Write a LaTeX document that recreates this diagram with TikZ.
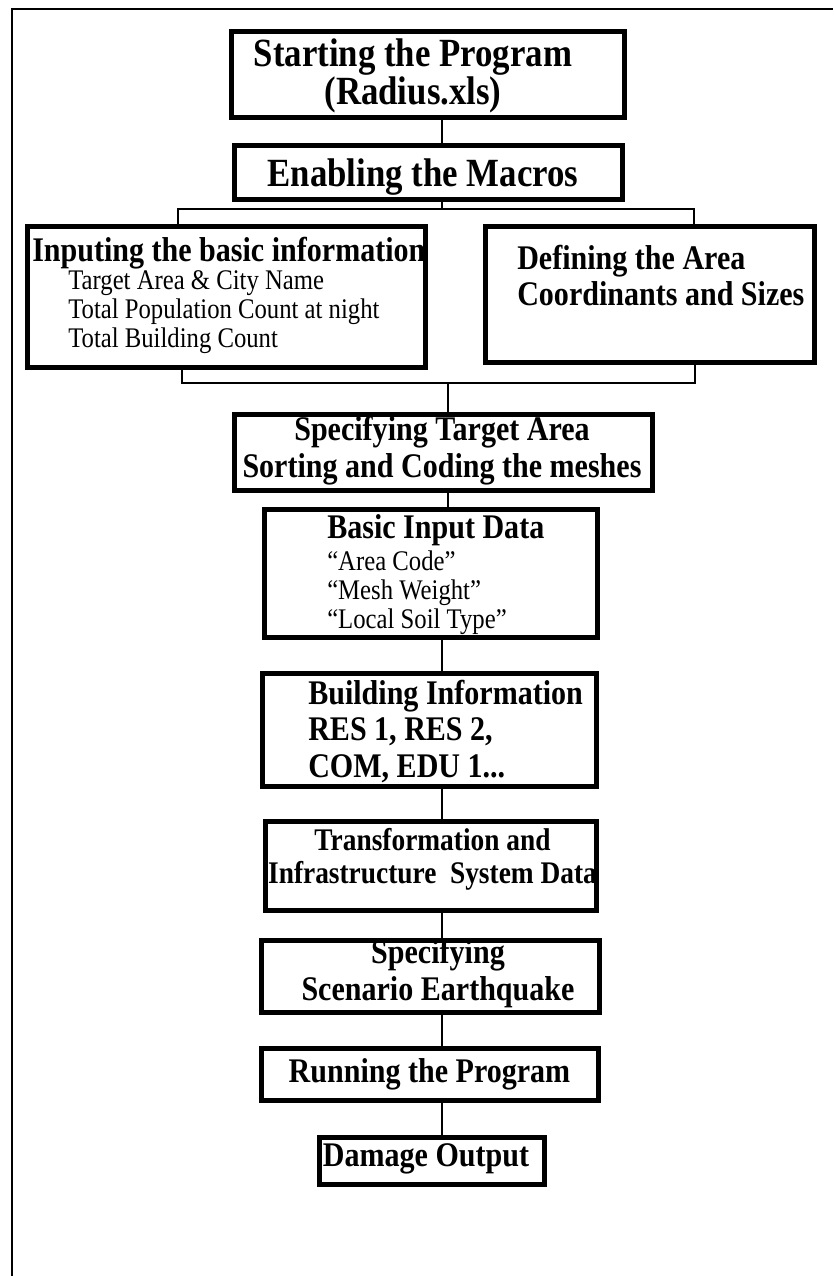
\documentclass[tikz,border=0pt]{standalone}
\usepackage{fontspec}
\setmainfont{Liberation Serif}
\newfontfamily\tallfont[FakeStretch=0.87]{Liberation Serif}

\def\pix{0.75pt}

\begin{document}
\begin{tikzpicture}[x=\pix,y=-\pix]
    \tikzstyle{box}=[draw,rectangle,line width=3.5pt,inner sep=0pt]
    \tikzstyle{link}=[line width=1.5pt]
    \tikzstyle{frame}=[line width=1.5pt]
    \tikzstyle{head text}=[inner sep=0pt,font=\tallfont\fontsize{30}{27}\selectfont\bfseries]
    \tikzstyle{box text}=[inner sep=0pt,font=\tallfont\fontsize{25.9}{27.5}\selectfont\bfseries]
    \tikzstyle{list text}=[inner sep=0pt,align=left,font=\tallfont\fontsize{21.3}{21.75}\selectfont]

    \useasboundingbox (0,0) rectangle (833,1276);

    % Outer frame (only top and left edges show)
    \draw[frame] (12,1276) -- (12,9) -- (833,9);

    % Draw the boxes
    \node[box,minimum width=393*\pix,minimum height=86*\pix]  (start)  at (428,74.5)   {};
    \node[box,minimum width=388*\pix,minimum height=54*\pix]  (macros) at (428.5,172.5) {};
    \node[box,minimum width=398*\pix,minimum height=141*\pix] (input)  at (226.5,297)   {};
    \node[box,minimum width=329*\pix,minimum height=136*\pix] (define) at (650,294.5)   {};
    \node[box,minimum width=418*\pix,minimum height=76*\pix]  (target) at (443.5,452.5) {};
    \node[box,minimum width=333*\pix,minimum height=128*\pix] (basic)  at (431,573.5)   {};
    \node[box,minimum width=334*\pix,minimum height=113*\pix] (build)  at (429.5,730)   {};
    \node[box,minimum width=331*\pix,minimum height=89*\pix]  (trans)  at (431,866)     {};
    \node[box,minimum width=338*\pix,minimum height=72*\pix]  (scen)   at (430.5,976.5) {};
    \node[box,minimum width=337*\pix,minimum height=52*\pix]  (run)    at (430,1074.5)  {};
    \node[box,minimum width=225*\pix,minimum height=47*\pix]  (dmg)    at (432,1161)    {};

    % Texts in the boxes
    \node[head text,align=center,anchor=north] (start-txt) at (413,38.8)
        {Starting the Program\\(Radius.xls)};
    \node[head text,anchor=base] (macros-txt) at (423,187) {Enabling the Macros};
    \node[box text,anchor=base west] (input-txt) at (32,262) {Inputing the basic information};
    \node[list text,anchor=north west] (input-list) at (68,270.7)
        {Target Area \& City Name\\Total Population Count at night\\Total Building Count};
    \node[box text,align=left,anchor=north west] (define-txt) at (517,244.5)
        {Defining the Area\\Coordinants and Sizes};
    \node[box text,align=center,anchor=north] (target-txt) at (442,416.2)
        {Specifying Target Area\\Sorting and Coding the meshes};
    \node[box text,anchor=base west] (basic-txt) at (327,538) {Basic Input Data};
    \node[list text,anchor=north west] (basic-list) at (327,550.7)
        {“Area Code”\\“Mesh Weight”\\“Local Soil Type”};
    \node[box text,align=left,anchor=north west] (build-txt) at (308,679.5)
        {Building Information\\RES 1, RES 2,\\COM, EDU 1...};
    \node[box text,align=center,anchor=north,font=\tallfont\fontsize{23.6}{24.75}\selectfont\bfseries] (trans-txt) at (432.5,828.3)
        {Transformation and\\Infrastructure\ \ System Data};
    \node[box text,align=center,anchor=north] (scen-txt) at (438,939.2)
        {Specifying\\Scenario Earthquake};
    \node[box text,anchor=base] (run-txt) at (429.5,1082) {Running the Program};
    \node[box text,anchor=base] (dmg-txt) at (426,1166) {Damage Output};

    % Connect the boxes
    \coordinate (axis) at (442,0);
    \coordinate (fork)   at (442,209);
    \coordinate (fork-l) at (178,209);
    \coordinate (fork-r) at (694,209);
    \coordinate (join)   at (448,383);
    \coordinate (join-l) at (182,383);
    \coordinate (join-r) at (695,383);

    \foreach \source/\dest in {start/macros,basic/build,build/trans,trans/scen,scen/run,run/dmg}
        \draw[link] (\source.south -| axis) -- (\dest.north -| axis);

    \draw[link] (macros.south -| fork) -- (fork);
    \draw[link] (input.north -| fork-l) -- (fork-l) -- (fork-r) -- (define.north -| fork-r);
    \draw[link] (input.south -| join-l) -- (join-l) -- (join-r) -- (define.south -| join-r);
    \draw[link] (join) -- (target.north -| join);
    \draw[link] (target.south -| join) -- (basic.north -| join);
\end{tikzpicture}
\end{document}
